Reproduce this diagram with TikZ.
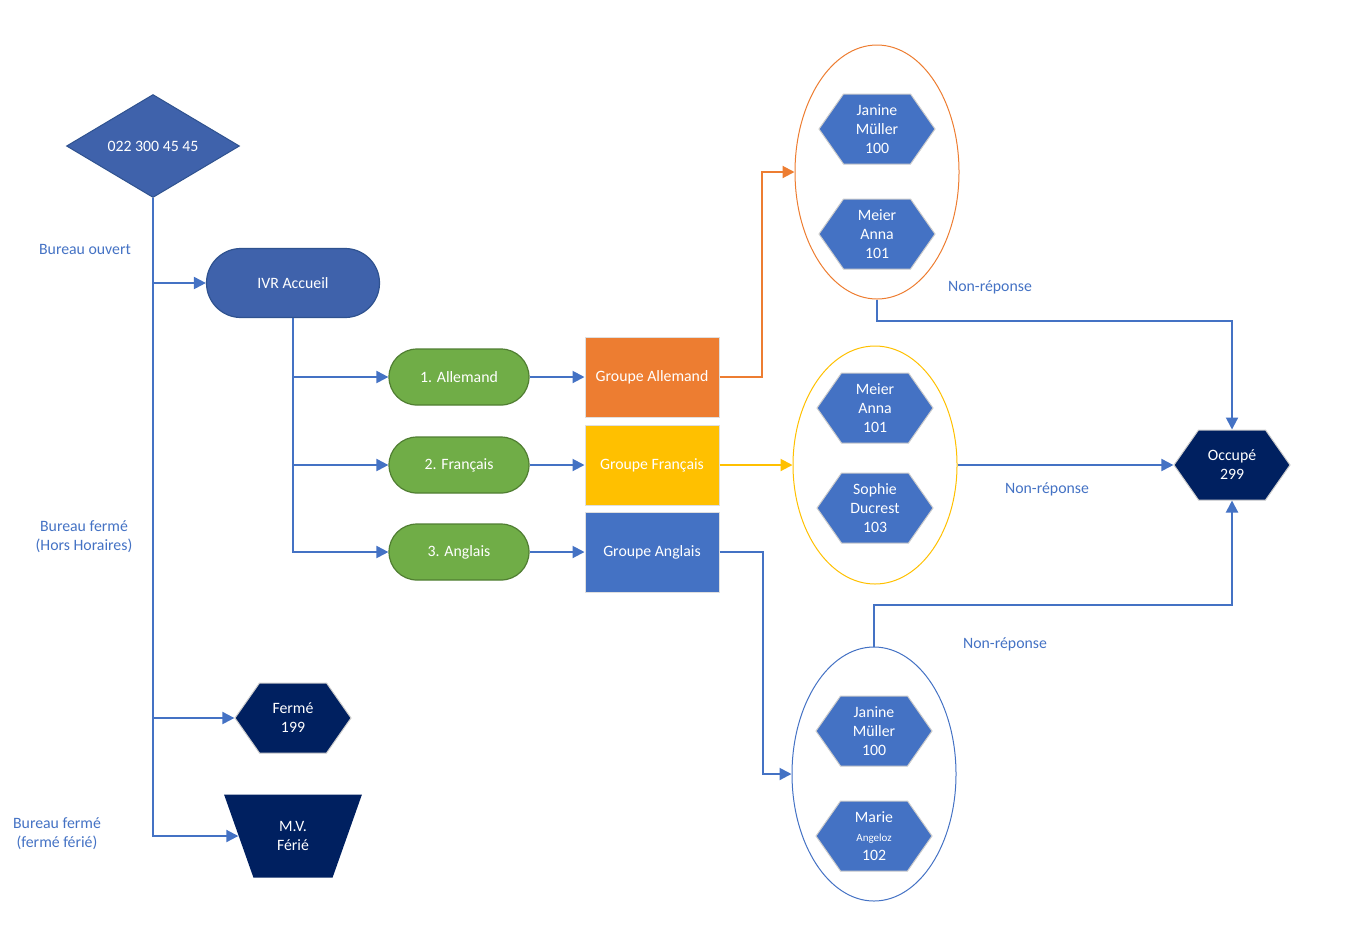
\documentclass[tikz,border=0pt]{standalone}
\usepackage{fontspec}
\setmainfont{Carlito}
\usetikzlibrary{arrows.meta,shapes.geometric,shapes.misc,shapes.symbols}

\definecolor{lineblue}{HTML}{4472C4}
\definecolor{darkblue}{HTML}{3F62AB}
\definecolor{rimblue}{HTML}{2F528F}
\definecolor{navy}{HTML}{002060}
\definecolor{leafgreen}{HTML}{70AD47}
\definecolor{rimgreen}{HTML}{507E32}
\definecolor{orangeg}{HTML}{ED7D31}
\definecolor{yellowg}{HTML}{FFC000}

\tikzset{
  txt/.style={font=\fontsize{7.9}{9.5}\selectfont,text=white,align=center,inner sep=0pt},
  note/.style={font=\fontsize{7.9}{9.5}\selectfont,text=lineblue,align=center},
  conn/.style={draw=lineblue,line width=1pt,-{Triangle[length=6pt,width=6pt]}},
  hexa/.style={txt,signal,signal to=east and west,signal pointer angle=110,
    minimum width=58pt,minimum height=35pt,fill=#1,draw=gray!40,line width=0.5pt},
  lang/.style={txt,rounded rectangle,fill=leafgreen,draw=rimgreen,line width=0.6pt,
    minimum width=70pt,minimum height=28pt},
  grp/.style={txt,rectangle,fill=#1,draw=gray!25,line width=0.5pt,
    minimum width=67pt,minimum height=40pt},
  ring/.style={ellipse,draw=#1,line width=0.5pt,inner sep=0pt,
    minimum width=82pt,minimum height=127pt}
}

\begin{document}
\begin{tikzpicture}[x=0.5pt,y=-0.5pt]
\useasboundingbox (0,0) rectangle (1363,949);

% entry side
\node[txt,diamond,fill=darkblue,draw=rimblue,line width=0.5pt,
  minimum width=86.5pt,minimum height=51.5pt] (dia) at (153,146) {022 300 45 45};
\node[txt,rounded rectangle,fill=darkblue,draw=rimblue,line width=0.6pt,
  minimum width=86.5pt,minimum height=34.5pt] (ivr) at (293,283) {IVR Accueil};
\node[hexa=navy] (ferme) at (293,718) {Fermé\\199};
\node[txt,trapezium,shape border rotate=180,trapezium stretches=true,
  trapezium left angle=68,trapezium right angle=68,fill=navy,
  minimum width=69pt,minimum height=41.5pt] (mv) at (293,836) {M.V.\\Férié};

% languages
\node[lang] (lde) at (459,377) {1. Allemand};
\node[lang] (lfr) at (459,465) {2. Français};
\node[lang] (len) at (459,552) {3. Anglais};

% groups
\node[grp=orangeg] (gde) at (652,377) {Groupe Allemand};
\node[grp=yellowg] (gfr) at (652,465) {Groupe Français};
\node[grp=lineblue] (gen) at (652,552) {Groupe Anglais};

% ring groups
\node[ring=orangeg] (rde) at (877,172) {};
\node[hexa=lineblue] at (877,129) {Janine\\Müller\\100};
\node[hexa=lineblue] at (877,234) {Meier\\Anna\\101};

\node[ring=yellowg,minimum height=119pt] (rfr) at (875,465) {};
\node[hexa=lineblue] at (875,408) {Meier\\Anna\\101};
\node[hexa=lineblue] at (875,508) {Sophie\\Ducrest\\103};

\node[ring=lineblue] (ren) at (874,774) {};
\node[hexa=lineblue] at (874,731) {Janine\\Müller\\100};
\node[hexa=lineblue] at (874,836) {Marie\\{\fontsize{5.5}{9.5}\selectfont Angeloz}\\102};

\node[hexa=navy] (occ) at (1232,465) {Occupé\\299};

% connectors
\draw[conn] (dia.south) |- (ivr.west);
\draw[conn] (dia.south) |- (ferme.west);
\draw[conn] (dia.south) |- (mv.west);

\draw[conn] (ivr.south) |- (lde.west);
\draw[conn] (ivr.south) |- (lfr.west);
\draw[conn] (ivr.south) |- (len.west);

\draw[conn] (lde.east) -- (gde.west);
\draw[conn] (lfr.east) -- (gfr.west);
\draw[conn] (len.east) -- (gen.west);

\draw[conn,draw=orangeg] (gde.east) -- ++(42,0) |- (rde.west);
\draw[conn,draw=yellowg] (gfr.east) -- (rfr.west);
\draw[conn] (gen.east) -- ++(43,0) |- (ren.west);

\draw[conn] (rde.south) -- ++(0,21) -| (occ.north);
\draw[conn] (rfr.east) -- (occ.west);
\draw[conn] (ren.north) -- ++(0,-42) -| (occ.south);

% labels
\node[note] at (85,249) {Bureau ouvert};
\node[note] at (84,537) {Bureau fermé\\(Hors Horaires)};
\node[note] at (57,834) {Bureau fermé\\(fermé férié)};
\node[note] at (990,287) {Non-réponse};
\node[note] at (1047,489) {Non-réponse};
\node[note] at (1005,644) {Non-réponse};

\end{tikzpicture}
\end{document}
